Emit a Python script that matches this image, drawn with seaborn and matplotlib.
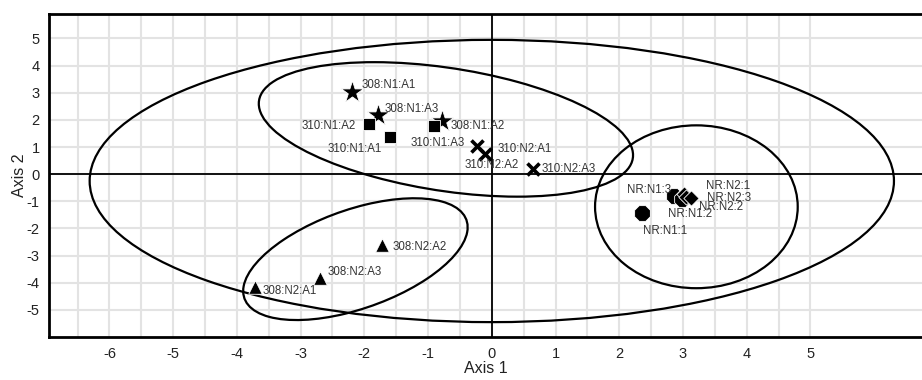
import pandas as pd
import matplotlib
matplotlib.use("Agg")
import matplotlib.pyplot as plt
from matplotlib.patches import Ellipse
import seaborn as sns

# ── Data ──────────────────────────────────────────────────────────────────────
labels = [
    "308:N1:A1", "308:N1:A3", "308:N1:A2",
    "310:N1:A2", "310:N1:A1", "310:N1:A3",
    "310:N2:A1", "310:N2:A2", "310:N2:A3",
    "308:N2:A1", "308:N2:A3", "308:N2:A2",
    "NR:N1:1", "NR:N1:3", "NR:N1:2",
    "NR:N2:1", "NR:N2:3", "NR:N2:2",
]
groups = [
    "308:N1", "308:N1", "308:N1",
    "310:N1", "310:N1", "310:N1",
    "310:N2", "310:N2", "310:N2",
    "308:N2", "308:N2", "308:N2",
    "NR:N1", "NR:N1", "NR:N1",
    "NR:N2", "NR:N2", "NR:N2",
]
axis1 = [-2.20, -1.79, -0.78, -1.92, -1.60, -0.91, -0.24, -0.11, 0.64,
         -3.72, -2.70, -1.73, 2.35, 2.86, 2.98, 3.01, 3.05, 3.12]
axis2 = [3.04, 2.19, 1.97, 1.86, 1.38, 1.79, 1.05, 0.76, 0.20,
         -4.14, -3.81, -2.60, -1.42, -0.79, -0.90, -0.72, -0.83, -0.87]

# confidence ellipses: centre, width, height, angle (data units)
ell_cx = [0.0, -0.72, -2.14, 3.21]
ell_cy = [-0.25, 1.65, -3.13, -1.20]
ell_w = [12.62, 6.46, 5.04, 3.18]
ell_h = [10.40, 4.16, 2.67, 6.00]
ell_angle = [0.0, -33.0, 57.5, 0.0]

df = pd.DataFrame({"label": labels, "group": groups, "Axis 1": axis1, "Axis 2": axis2})

# ── Style ─────────────────────────────────────────────────────────────────────
sns.set_style("white")
plt.rcParams["font.family"] = ["Liberation Sans", "DejaVu Sans"]
plt.rcParams["axes.unicode_minus"] = False

MARKERS = {"308:N1": ("*", 280), "310:N1": ("s", 80), "310:N2": ("x", 75),
           "308:N2": ("^", 95), "NR:N1": ("8", 150), "NR:N2": ("D", 60)}

# label offsets in pixels (dx, dy) and alignment
OFFSETS = {
    "308:N1:A1": (10, 7, "left"), "308:N1:A3": (7, 6, "left"), "308:N1:A2": (8, -5, "left"),
    "310:N1:A2": (-14, -2, "right"), "310:N1:A1": (-8, -12, "right"), "310:N1:A3": (4, -17, "center"),
    "310:N2:A1": (21, -3, "left"), "310:N2:A2": (7, -11, "center"), "310:N2:A3": (9, 0, "left"),
    "308:N2:A1": (8, -4, "left"), "308:N2:A3": (8, 6, "left"), "308:N2:A2": (11, -2, "left"),
    "NR:N1:1": (1, -18, "left"), "NR:N1:3": (-3, 6, "right"), "NR:N1:2": (-14, -15, "left"),
    "NR:N2:1": (22, 8, "left"), "NR:N2:3": (21, -1, "left"), "NR:N2:2": (8, -9, "left"),
}

fig = plt.figure(figsize=(9.22, 3.8), dpi=100)
ax = fig.add_axes([0.053, 0.113, 0.947, 0.85])

ax.set_xlim(-6.95, 6.75)
ax.set_ylim(-6.0, 5.9)

# ticks and grid: every half unit along x, whole units along y
ax.set_xticks([v for v in range(-6, 6)])
ax.set_xticks([v + 0.5 for v in range(-7, 5)], minor=True)
ax.set_yticks([v for v in range(-5, 6)])
ax.set_yticks([v + 0.5 for v in range(-6, 6)], minor=True)
ax.grid(True, which="both", axis="x", color="#e3e3e3", linewidth=1.5, zorder=0)
ax.grid(True, which="major", axis="y", color="#e3e3e3", linewidth=1.5, zorder=0)
ax.set_axisbelow(True)

ax.axhline(0, color="black", linewidth=1.3, zorder=1)
ax.axvline(0, color="black", linewidth=1.3, zorder=1)

for cx, cy, w, h, a in zip(ell_cx, ell_cy, ell_w, ell_h, ell_angle):
    ax.add_patch(Ellipse((cx, cy), w, h, angle=a, fill=False, edgecolor="black",
                         linewidth=1.6, zorder=2))

for grp, (mk, size) in MARKERS.items():
    sub = df[df["group"] == grp]
    if mk == "x":
        sns.scatterplot(data=sub, x="Axis 1", y="Axis 2", marker=mk, s=size, color="black",
                        linewidth=2.6, ax=ax, zorder=3)
    else:
        sns.scatterplot(data=sub, x="Axis 1", y="Axis 2", marker=mk, s=size, color="black",
                        edgecolor="white", linewidth=0.6, ax=ax, zorder=3)

for _, row in df.iterrows():
    dx, dy, ha = OFFSETS[row["label"]]
    ax.annotate(row["label"], (row["Axis 1"], row["Axis 2"]), xytext=(dx * 0.72, dy * 0.72),
                textcoords="offset points", ha=ha, va="center", fontsize=8.3, color="#333333",
                zorder=4)

for side in ["left", "top", "bottom"]:
    ax.spines[side].set_linewidth(2.0)
    ax.spines[side].set_color("black")
ax.spines["right"].set_visible(False)

ax.tick_params(axis="both", which="both", direction="inout", color="black", width=1.3)
ax.tick_params(axis="both", which="major", length=7, labelsize=10.5, labelcolor="#222222")
ax.tick_params(axis="both", which="minor", length=7)
ax.tick_params(axis="x", which="major", pad=4)
ax.tick_params(axis="y", which="major", pad=3)

ax.set_xlabel("Axis 1", fontsize=11.5, color="#222222", labelpad=0)
ax.set_ylabel("Axis 2", fontsize=11.5, color="#222222", labelpad=0)

fig.savefig("out.png", dpi=100)
